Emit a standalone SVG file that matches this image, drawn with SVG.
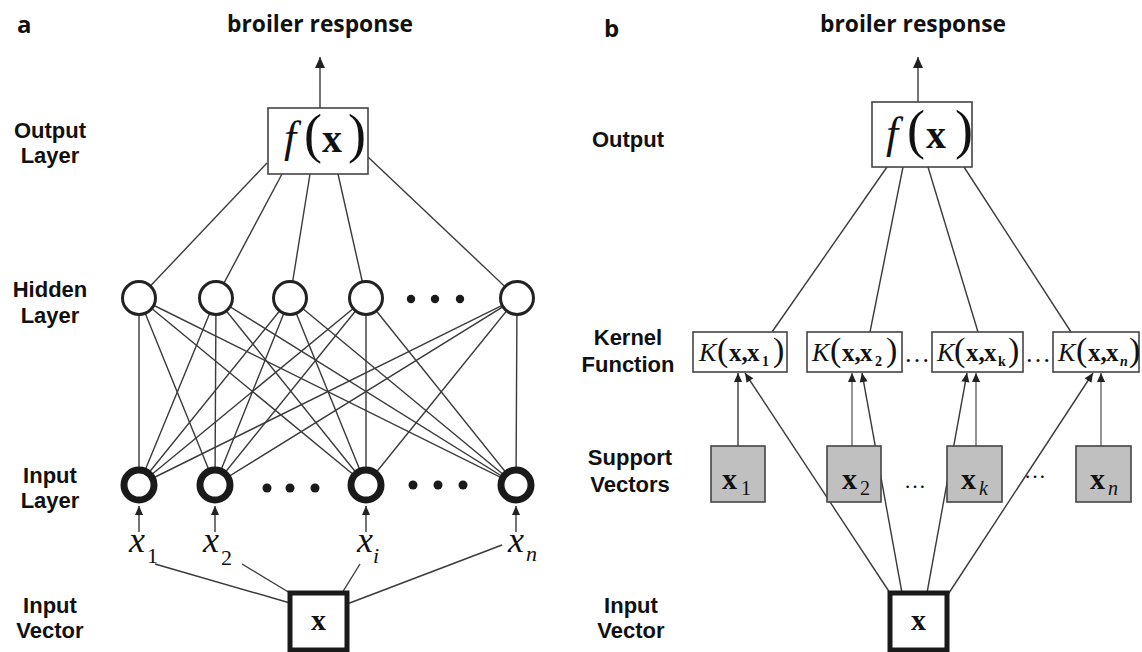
<svg xmlns="http://www.w3.org/2000/svg" width="1142" height="652" viewBox="0 0 1142 652">
<defs>
<marker id="ah" viewBox="0 0 10 10" refX="10" refY="5" markerWidth="10" markerHeight="9" markerUnits="userSpaceOnUse" orient="auto"><path d="M0,0.5 L10,5 L0,9.5 z" fill="#222"/></marker>
<marker id="ahL" viewBox="0 0 10 10" refX="10" refY="5" markerWidth="11" markerHeight="11" markerUnits="userSpaceOnUse" orient="auto"><path d="M0,0.5 L10,5 L0,9.5 z" fill="#222"/></marker>
</defs>
<style>
.lbl{font-family:"Liberation Sans",Arial,sans-serif;font-weight:bold;font-size:22px;fill:#111;text-anchor:middle}
.ttl{font-family:"Open Sans","Liberation Sans",sans-serif;font-weight:bold;font-size:24px;fill:#111}
.ln{stroke:#3a3a3a;stroke-width:1.4;fill:none}
.lg{stroke:#7a7a7a;stroke-width:1.6;fill:none}
.m{font-family:"Liberation Serif","Times New Roman",serif;fill:#111}
.it{font-style:italic}
.bd{font-weight:bold}
.box{fill:#fff;stroke:#444;stroke-width:1.6}
.hid{fill:#fff;stroke:#222;stroke-width:3}
.inp{fill:#fff;stroke:#1a1a1a;stroke-width:7}
.gray{fill:#c0c0c0;stroke:#444;stroke-width:1.6}
.vec{fill:#fff;stroke:#1a1a1a;stroke-width:5}
.dot{fill:#1a1a1a}
</style>
<rect width="1142" height="652" fill="#fff"/>

<g id="titles">
<text class="ttl" x="17" y="33">a</text>
<text class="ttl" x="227" y="32" textLength="186" lengthAdjust="spacingAndGlyphs">broiler response</text>
<text class="ttl" x="604" y="37">b</text>
<text class="ttl" x="820" y="32" textLength="186" lengthAdjust="spacingAndGlyphs">broiler response</text>
</g>

<g id="labels-a">
<text class="lbl" x="50" y="138">Output</text><text class="lbl" x="50" y="163">Layer</text>
<text class="lbl" x="50" y="297">Hidden</text><text class="lbl" x="50" y="323">Layer</text>
<text class="lbl" x="50" y="483">Input</text><text class="lbl" x="50" y="508">Layer</text>
<text class="lbl" x="50" y="613">Input</text><text class="lbl" x="50" y="638">Vector</text>
</g>
<g id="labels-b">
<text class="lbl" x="628" y="147">Output</text>
<text class="lbl" x="628" y="345">Kernel</text><text class="lbl" x="628" y="372">Function</text>
<text class="lbl" x="630" y="465">Support</text><text class="lbl" x="630" y="492">Vectors</text>
<text class="lbl" x="631" y="613">Input</text><text class="lbl" x="631" y="638">Vector</text>
</g>

<g id="connectors">
<path class="ln" d="M320,108 L320,57" marker-end="url(#ahL)"/>
<path class="ln" d="M267,163 L139,298"/>
<path class="ln" d="M282,174 L216,298"/>
<path class="ln" d="M310,174 L290,298"/>
<path class="ln" d="M338,174 L366,298"/>
<path class="ln" d="M368,157 L517,298"/>
<path class="ln" d="M139,298 L139,485 M139,298 L215,485 M139,298 L366,485 M139,298 L516,485"/>
<path class="ln" d="M216,298 L139,485 M216,298 L215,485 M216,298 L366,485 M216,298 L516,485"/>
<path class="ln" d="M290,298 L139,485 M290,298 L215,485 M290,298 L366,485 M290,298 L516,485"/>
<path class="ln" d="M366,298 L139,485 M366,298 L215,485 M366,298 L366,485 M366,298 L516,485"/>
<path class="ln" d="M517,298 L139,485 M517,298 L215,485 M517,298 L366,485 M517,298 L516,485"/>
<path class="ln" d="M139,532 L139,506" marker-end="url(#ah)"/>
<path class="ln" d="M215,532 L215,506" marker-end="url(#ah)"/>
<path class="ln" d="M366,532 L366,506" marker-end="url(#ah)"/>
<path class="ln" d="M516,532 L516,506" marker-end="url(#ah)"/>
<path class="ln" d="M155,564 L290,603"/>
<path class="ln" d="M242,564 L290,593"/>
<path class="ln" d="M360,564 L342,593"/>
<path class="ln" d="M502,545 L347,604"/>
<path class="ln" d="M918,102 L918,57" marker-end="url(#ahL)"/>
<path class="ln" d="M887,167 L772,332"/>
<path class="ln" d="M903,167 L870,332"/>
<path class="ln" d="M928,167 L978,332"/>
<path class="ln" d="M964,167 L1071,332"/>
<path class="ln" d="M890,593 L745,373" marker-end="url(#ah)"/>
<path class="ln" d="M902,593 L862,373" marker-end="url(#ah)"/>
<path class="ln" d="M927,593 L967,373" marker-end="url(#ah)"/>
<path class="ln" d="M947,596 L1093,373" marker-end="url(#ah)"/>
<path class="ln" d="M738,446 L738,373" marker-end="url(#ah)"/>
<path class="lg" d="M852,446 L852,373" marker-end="url(#ah)"/>
<path class="lg" d="M976,446 L976,373" marker-end="url(#ah)"/>
<path class="lg" d="M1101,446 L1101,373" marker-end="url(#ah)"/>
</g>

<g id="a-output">
<rect class="box" x="268" y="108" width="100" height="66"/>
<text class="m" y="152"><tspan class="it" x="284" font-size="44">f</tspan><tspan x="304" font-size="54">(</tspan><tspan class="bd" x="322" font-size="40">x</tspan><tspan x="348" font-size="54">)</tspan></text>
</g>
<g id="a-hidden">
<circle class="hid" cx="139" cy="298" r="16.5"/>
<circle class="hid" cx="216" cy="298" r="16.5"/>
<circle class="hid" cx="290" cy="298" r="16.5"/>
<circle class="hid" cx="366" cy="298" r="16.5"/>
<circle class="hid" cx="517" cy="298" r="16.5"/>
<circle class="dot" cx="411" cy="299" r="4.2"/><circle class="dot" cx="435" cy="299" r="4.2"/><circle class="dot" cx="460" cy="299" r="4.2"/>
</g>
<g id="a-input">
<circle class="inp" cx="139" cy="485" r="15"/>
<circle class="inp" cx="215" cy="485" r="15"/>
<circle class="inp" cx="366" cy="485" r="15"/>
<circle class="inp" cx="516" cy="485" r="15"/>
<circle class="dot" cx="267" cy="488" r="4.5"/><circle class="dot" cx="290" cy="488" r="4.5"/><circle class="dot" cx="315" cy="488" r="4.5"/>
<circle class="dot" cx="413" cy="485" r="4.5"/><circle class="dot" cx="438" cy="485" r="4.5"/><circle class="dot" cx="463" cy="485" r="4.5"/>
</g>
<g id="a-xlabels">
<text class="m"><tspan class="it" x="129" y="552" font-size="36">x</tspan><tspan x="147" y="563" font-size="22">1</tspan></text>
<text class="m"><tspan class="it" x="203" y="552" font-size="36">x</tspan><tspan x="221" y="565" font-size="22">2</tspan></text>
<text class="m"><tspan class="it" x="357" y="552" font-size="36">x</tspan><tspan class="it" x="373" y="563" font-size="22">i</tspan></text>
<text class="m"><tspan class="it" x="508" y="552" font-size="36">x</tspan><tspan class="it" x="526" y="561" font-size="22">n</tspan></text>
</g>
<g id="a-vector">
<rect class="vec" x="290" y="593" width="57" height="57"/>
<text class="m bd" x="318.5" y="630" font-size="30" text-anchor="middle">x</text>
</g>

<g id="b-output">
<rect class="box" x="872" y="102" width="100" height="65"/>
<text class="m" y="148"><tspan class="it" x="886" font-size="44">f</tspan><tspan x="907" font-size="54">(</tspan><tspan class="bd" x="926" font-size="40">x</tspan><tspan x="955" font-size="54">)</tspan></text>
</g>
<g id="b-kernel1">
<rect class="box" x="693" y="332" width="94" height="40"/>
<text class="m" y="361"><tspan class="it" x="699" font-size="26">K</tspan><tspan x="717" font-size="34">(</tspan><tspan class="bd" x="729" font-size="25">x,</tspan><tspan class="bd" x="747" font-size="25">x</tspan><tspan class="bd" x="762" y="366" font-size="14">1</tspan><tspan x="773" y="361" font-size="34">)</tspan></text>
</g>
<g id="b-kernel2">
<rect class="box" x="807" y="332" width="95" height="40"/>
<text class="m" y="361"><tspan class="it" x="812" font-size="26">K</tspan><tspan x="830" font-size="34">(</tspan><tspan class="bd" x="842" font-size="25">x,</tspan><tspan class="bd" x="860" font-size="25">x</tspan><tspan class="bd" x="875" y="366" font-size="14">2</tspan><tspan x="886" y="361" font-size="34">)</tspan></text>
</g>
<g id="b-kernel3">
<rect class="box" x="932" y="332" width="91" height="40"/>
<text class="m" y="361"><tspan class="it" x="937" font-size="26">K</tspan><tspan x="954" font-size="34">(</tspan><tspan class="bd" x="966" font-size="25">x,</tspan><tspan class="bd" x="984" font-size="25">x</tspan><tspan class="bd" x="998" y="366" font-size="14">k</tspan><tspan x="1008" y="361" font-size="34">)</tspan></text>
</g>
<g id="b-kernel4">
<rect class="box" x="1053" y="332" width="86" height="40"/>
<text class="m" y="361"><tspan class="it" x="1058" font-size="26">K</tspan><tspan x="1076" font-size="34">(</tspan><tspan class="bd" x="1088" font-size="25">x,</tspan><tspan class="bd" x="1106" font-size="25">x</tspan><tspan class="it bd" x="1120" y="366" font-size="14">n</tspan><tspan x="1129" y="361" font-size="34">)</tspan></text>
</g>
<g id="b-kdots">
<text class="m" x="917" y="362" font-size="26" text-anchor="middle">…</text>
<text class="m" x="1038" y="362" font-size="26" text-anchor="middle">…</text>
</g>
<g id="b-sv1">
<rect class="gray" x="711" y="446" width="54" height="56"/>
<text class="m"><tspan class="bd" x="722" y="489" font-size="30">x</tspan><tspan x="741" y="495" font-size="20">1</tspan></text>
</g>
<g id="b-sv2">
<rect class="gray" x="827" y="446" width="54" height="56"/>
<text class="m"><tspan class="bd" x="842" y="489" font-size="30">x</tspan><tspan x="860" y="495" font-size="20">2</tspan></text>
</g>
<g id="b-sv3">
<rect class="gray" x="947" y="446" width="55" height="56"/>
<text class="m"><tspan class="bd" x="961" y="489" font-size="30">x</tspan><tspan class="it" x="979" y="495" font-size="20">k</tspan></text>
</g>
<g id="b-sv4">
<rect class="gray" x="1076" y="446" width="55" height="56"/>
<text class="m"><tspan class="bd" x="1090" y="489" font-size="30">x</tspan><tspan class="it" x="1108" y="495" font-size="20">n</tspan></text>
</g>
<g id="b-svdots">
<text class="m" x="915" y="488" font-size="22" text-anchor="middle" fill="#333">…</text>
<text class="m" x="1035" y="478" font-size="22" text-anchor="middle" fill="#333">…</text>
</g>
<g id="b-vector">
<rect class="vec" x="890" y="593" width="57" height="57"/>
<text class="m bd" x="918.5" y="630" font-size="30" text-anchor="middle">x</text>
</g>
</svg>
